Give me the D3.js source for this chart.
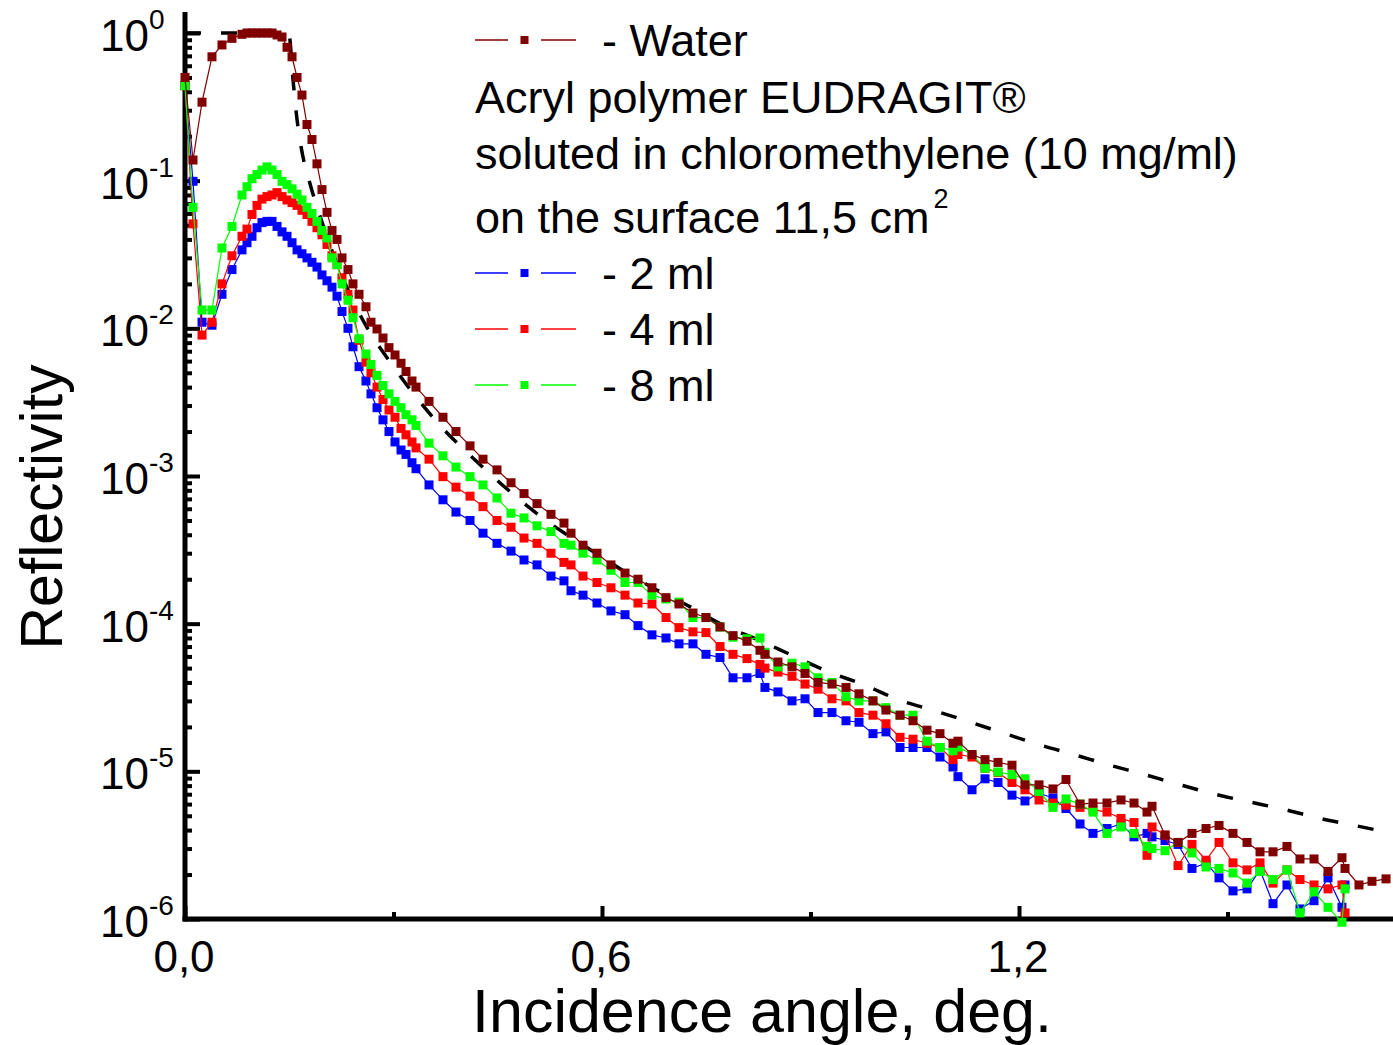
<!DOCTYPE html>
<html>
<head>
<meta charset="utf-8">
<script src="https://cdn.jsdelivr.net/npm/d3@7/dist/d3.min.js"></script>
<style>
body { margin: 0; background: #fff; }
text { font-family: "Liberation Sans", Arial, sans-serif; fill: #000; }
</style>
</head>
<body>
<div class="canvas"></div>
<script>
// incidence angles (deg) shared by all measured curves
const angle = [0.000, 0.0115, 0.0245, 0.0388, 0.0532, 0.0676, 0.0820, 0.0892, 0.0964, 0.1036,
  0.1108, 0.1180, 0.1252, 0.1324, 0.1396, 0.1468, 0.1540, 0.1612, 0.1683, 0.1755,
  0.1827, 0.1899, 0.1971, 0.2043, 0.2115, 0.2187, 0.2259, 0.2345, 0.2417, 0.2504,
  0.2604, 0.2676, 0.2763, 0.2849, 0.2935, 0.3022, 0.3108, 0.3180, 0.3266, 0.3324,
  0.3511, 0.3712, 0.3899, 0.4101, 0.4288, 0.4489, 0.4691, 0.4878, 0.5065, 0.5266,
  0.5453, 0.5554, 0.5727, 0.5928, 0.6129, 0.6331, 0.6518, 0.6719, 0.6921, 0.7108,
  0.7309, 0.7496, 0.7698, 0.7885, 0.8086, 0.8273, 0.8345, 0.8532, 0.8734, 0.8921,
  0.9108, 0.9309, 0.9511, 0.9698, 0.9899, 1.0086, 1.0288, 1.0475, 1.0676, 1.0863,
  1.1050, 1.1122, 1.1324, 1.1511, 1.1698, 1.1899, 1.2086, 1.2288, 1.2489, 1.2676,
  1.2878, 1.3065, 1.3266, 1.3468, 1.3655, 1.3842, 1.3914, 1.4101, 1.4288, 1.4489,
  1.4691, 1.4878, 1.5079, 1.5281, 1.5468, 1.5655, 1.5856, 1.6043, 1.6245, 1.6446,
  1.6647, 1.6691, 1.6892, 1.7079, 1.7281];

// reflectivity of pure water
const water = [0.50, 0.138, 0.34, 0.69, 0.83, 0.92, 0.98, 1.0, 1.0, 1.0,
  1.0, 1.0, 1.0, 0.97, 0.94, 0.80, 0.69, 0.50, 0.38, 0.24,
  0.19, 0.13, 0.087, 0.061, 0.046, 0.040, 0.030, 0.025, 0.020, 0.017,
  0.014, 0.011, 0.0099, 0.0086, 0.0074, 0.0066, 0.0058, 0.0051, 0.0044, 0.0040,
  0.0032, 0.0025, 0.0020, 0.0016, 0.0013, 0.0011, 9.0e-4, 7.6e-4, 6.5e-4, 5.5e-4,
  4.8e-4, 4.1e-4, 3.4e-4, 3.0e-4, 2.5e-4, 2.2e-4, 2.0e-4, 1.75e-4, 1.5e-4, 1.36e-4,
  1.18e-4, 1.1e-4, 9.5e-5, 8.3e-5, 7.6e-5, 6.6e-5, 6.2e-5, 5.5e-5, 5.1e-5, 4.6e-5,
  4.0e-5, 3.9e-5, 3.7e-5, 3.35e-5, 3.0e-5, 2.6e-5, 2.4e-5, 2.2e-5, 1.9e-5, 1.8e-5,
  1.55e-5, 1.6e-5, 1.3e-5, 1.2e-5, 1.15e-5, 1.1e-5, 8.1e-6, 8.1e-6, 7.6e-6, 8.8e-6,
  6.0e-6, 6.1e-6, 6.1e-6, 6.4e-6, 6.1e-6, 5.3e-6, 5.8e-6, 3.7e-6, 3.3e-6, 3.8e-6,
  4.1e-6, 4.3e-6, 3.8e-6, 3.3e-6, 2.85e-6, 2.85e-6, 3.1e-6, 2.55e-6, 2.55e-6, 2.1e-6,
  2.6e-6, 2.2e-6, 1.7e-6, 1.8e-6, 1.87e-6];

// polymer film, 2 ml
const ml2 = [0.44, 0.099, 0.011, 0.0105, 0.017, 0.025, 0.034, 0.038, 0.042, 0.048,
  0.052, 0.053, 0.053, 0.049, 0.045, 0.042, 0.038, 0.034, 0.032, 0.030,
  0.028, 0.026, 0.023, 0.021, 0.019, 0.0165, 0.013, 0.010, 0.0075, 0.0055,
  0.0044, 0.0036, 0.0029, 0.0024, 0.0020, 0.0017, 0.0015, 0.0014, 0.00123, 0.00112,
  8.7e-4, 6.9e-4, 5.7e-4, 5.0e-4, 4.1e-4, 3.5e-4, 3.1e-4, 2.7e-4, 2.5e-4, 2.1e-4,
  1.95e-4, 1.67e-4, 1.56e-4, 1.38e-4, 1.22e-4, 1.15e-4, 9.7e-5, 8.4e-5, 8.0e-5, 7.3e-5,
  7.3e-5, 6.2e-5, 5.9e-5, 4.3e-5, 4.3e-5, 4.6e-5, 3.7e-5, 3.45e-5, 3.0e-5, 3.1e-5,
  2.5e-5, 2.5e-5, 2.2e-5, 2.15e-5, 1.8e-5, 1.85e-5, 1.45e-5, 1.45e-5, 1.45e-5, 1.25e-5,
  1.07e-5, 9.2e-6, 7.5e-6, 8.9e-6, 8.4e-6, 6.9e-6, 6.3e-6, 7.1e-6, 6.6e-6, 5.6e-6,
  4.4e-6, 3.8e-6, 4.1e-6, 4.4e-6, 3.6e-6, 3.8e-6, 3.6e-6, 3.4e-6, 3.2e-6, 2.2e-6,
  2.4e-6, 1.9e-6, 1.55e-6, 1.6e-6, 2.15e-6, 1.27e-6, 1.7e-6, 1.17e-6, 1.33e-6, 1.9e-6,
  1.2e-6, 1.7e-6];

// polymer film, 4 ml
const ml4 = [0.44, 0.051, 0.0090, 0.0110, 0.020, 0.031, 0.042, 0.047, 0.059, 0.068,
  0.075, 0.078, 0.080, 0.083, 0.078, 0.074, 0.071, 0.068, 0.063, 0.059,
  0.053, 0.048, 0.043, 0.037, 0.031, 0.027, 0.022, 0.017, 0.0133, 0.0083,
  0.0059, 0.0050, 0.0040, 0.0033, 0.0028, 0.0025, 0.0021, 0.0019, 0.0017, 0.00155,
  0.0013, 9.9e-4, 8.4e-4, 7.3e-4, 6.2e-4, 5.0e-4, 4.5e-4, 3.8e-4, 3.5e-4, 3.0e-4,
  2.6e-4, 2.5e-4, 2.1e-4, 1.9e-4, 1.75e-4, 1.56e-4, 1.38e-4, 1.36e-4, 1.1e-4, 9.4e-5,
  8.8e-5, 8.7e-5, 7.0e-5, 6.2e-5, 5.8e-5, 5.3e-5, 5.0e-5, 4.7e-5, 4.4e-5, 3.9e-5,
  3.6e-5, 3.1e-5, 3.0e-5, 2.5e-5, 2.4e-5, 2.1e-5, 1.7e-5, 1.65e-5, 1.55e-5, 1.45e-5,
  1.2e-5, 1.3e-5, 1.25e-5, 1.05e-5, 9.8e-6, 8.4e-6, 7.5e-6, 6.4e-6, 6.1e-6, 5.9e-6,
  5.7e-6, 5.5e-6, 5.3e-6, 4.8e-6, 4.5e-6, 2.7e-6, 4.2e-6, 3.7e-6, 2.3e-6, 3.2e-6,
  2.5e-6, 3.3e-6, 2.4e-6, 2.15e-6, 2.4e-6, 1.75e-6, 2.15e-6, 1.85e-6, 1.7e-6, 1.6e-6,
  1.7e-6, 1.1e-6];

// polymer film, 8 ml
const ml8 = [0.44, 0.066, 0.0133, 0.0133, 0.035, 0.049, 0.080, 0.091, 0.103, 0.11,
  0.118, 0.124, 0.118, 0.11, 0.099, 0.094, 0.088, 0.081, 0.074, 0.066,
  0.060, 0.053, 0.046, 0.041, 0.030, 0.027, 0.020, 0.0155, 0.0118, 0.0085,
  0.0067, 0.0057, 0.0048, 0.0041, 0.0036, 0.0032, 0.0029, 0.0026, 0.0024, 0.0022,
  0.00167, 0.00137, 0.00115, 9.9e-4, 8.7e-4, 7.1e-4, 5.6e-4, 5.2e-4, 4.6e-4, 4.2e-4,
  3.5e-4, 3.4e-4, 3.0e-4, 2.7e-4, 2.3e-4, 1.9e-4, 1.9e-4, 1.56e-4, 1.47e-4, 1.4e-4,
  1.1e-4, 1.1e-4, 9.5e-5, 8.1e-5, 7.9e-5, 8.0e-5, 6.4e-5, 5.1e-5, 5.4e-5, 5.1e-5,
  4.3e-5, 4.0e-5, 3.2e-5, 3.0e-5, 3.0e-5, 2.7e-5, 2.4e-5, 2.4e-5, 1.6e-5, 1.45e-5,
  1.38e-5, 1.46e-5, 1.3e-5, 1.05e-5, 9.9e-6, 9.5e-6, 8.9e-6, 7.3e-6, 5.7e-6, 6.5e-6,
  6.0e-6, 5.3e-6, 3.8e-6, 4.2e-6, 3.8e-6, 3.1e-6, 3.0e-6, 2.9e-6, 3.3e-6, 2.8e-6,
  2.25e-6, 2.2e-6, 2.05e-6, 1.75e-6, 2.1e-6, 1.85e-6, 2.15e-6, 1.1e-6, 1.53e-6, 1.2e-6,
  0.95e-6, 1.6e-6];

// calculated curve for water (black dashes)
const theoryAngle = [0, 0.144, 0.150, 0.155, 0.160, 0.167, 0.180, 0.194, 0.212, 0.235,
  0.260, 0.292, 0.329, 0.371, 0.420, 0.471, 0.522, 0.573, 0.673, 0.727,
  0.774, 0.824, 0.875, 0.927, 0.977, 1.027, 1.079, 1.129, 1.180, 1.230,
  1.281, 1.331, 1.381, 1.432, 1.482, 1.532, 1.583, 1.633, 1.683, 1.738];
const theoryValue = [1, 1, 0.955, 0.51, 0.29, 0.17, 0.095, 0.058, 0.033, 0.018,
  0.0105, 0.0062, 0.0036, 0.0021, 0.00125, 7.6e-4, 4.9e-4, 3.4e-4, 1.75e-4, 1.3e-4,
  9.8e-5, 7.8e-5, 6.05e-5, 4.7e-5, 3.85e-5, 3.05e-5, 2.57e-5, 2.16e-5, 1.8e-5, 1.51e-5,
  1.29e-5, 1.1e-5, 9.5e-6, 8.1e-6, 7.0e-6, 6.2e-6, 5.5e-6, 4.8e-6, 4.3e-6, 3.8e-6];

const xMajor = [0, 0.6, 1.2];
const xMajorLabels = ['0,0', '0,6', '1,2'];
const xMinor = [0.3, 0.9, 1.5];
const yExponents = [0, -1, -2, -3, -4, -5, -6];

const seriesNames = ['- 2 ml', '- 4 ml', '- 8 ml', '- Water'];
const seriesColors = ['#0000ff', '#ff0000', '#00ff00', '#800000'];
const seriesValues = [ml2, ml4, ml8, water];
const noteLines = ['Acryl polymer EUDRAGIT\u00ae', 'soluted in chloromethylene (10 mg/ml)', 'on the surface 11,5 cm'];

const W = 1393, H = 1045;
const svg = d3.select('.canvas').append('svg')
    .attr('width', W)
    .attr('height', H);

const x = d3.scaleLinear().domain([0, 1.2]).range([185, 1019]);
const y = d3.scaleLog().domain([1e-6, 1]).range([919, 33]);

// minor ticks on the log axis
const yMinor = [];
yExponents.slice(0, -1).forEach(e => {
    for (let k = 2; k <= 9; k++) yMinor.push(k * Math.pow(10, e - 1));
});

// y axis ticks (inward)
const yMaj = svg.append('g').attr('transform', 'translate(185,0)')
    .call(d3.axisRight(y).tickValues(yExponents.map(e => Math.pow(10, e))).tickSize(15).tickFormat(''));
const yMin = svg.append('g').attr('transform', 'translate(185,0)')
    .call(d3.axisRight(y).tickValues(yMinor).tickSize(7).tickFormat(''));
[yMaj, yMin].forEach(g => {
    g.select('.domain').remove();
    g.selectAll('line').attr('stroke', '#000').attr('stroke-width', 4);
});

// x axis ticks (inward)
const xMaj = svg.append('g').attr('transform', 'translate(0,919)')
    .call(d3.axisTop(x).tickValues(xMajor).tickSize(13).tickFormat(''));
const xMin = svg.append('g').attr('transform', 'translate(0,919)')
    .call(d3.axisTop(x).tickValues(xMinor).tickSize(7).tickFormat(''));
[xMaj, xMin].forEach(g => {
    g.select('.domain').remove();
    g.selectAll('line').attr('stroke', '#000').attr('stroke-width', 4);
});

// axis lines
svg.append('line').attr('x1', 185).attr('x2', 185).attr('y1', y(1.39)).attr('y2', 921.5)
    .attr('stroke', '#000').attr('stroke-width', 5);
svg.append('line').attr('x1', 182.5).attr('x2', W).attr('y1', 919).attr('y2', 919)
    .attr('stroke', '#000').attr('stroke-width', 5);

// tick labels
svg.append('g').selectAll('text')
    .data(xMajor)
    .enter().append('text')
    .attr('x', d => x(d) - 1)
    .attr('y', 972)
    .attr('text-anchor', 'middle')
    .attr('font-size', 44)
    .text((d, i) => xMajorLabels[i]);

const yLab = svg.append('g').selectAll('text')
    .data(yExponents)
    .enter().append('text')
    .attr('x', 100)
    .attr('y', d => y(Math.pow(10, d)) + 18)
    .attr('font-size', 44);
yLab.append('tspan').text('10');
yLab.append('tspan').attr('dy', -22).attr('font-size', 28).text(d => d);

// axis titles
svg.append('text')
    .attr('x', 762).attr('y', 1032)
    .attr('text-anchor', 'middle')
    .attr('font-size', 61)
    .text('Incidence angle, deg.');
svg.append('text')
    .attr('transform', 'translate(62,507) rotate(-90)')
    .attr('text-anchor', 'middle')
    .attr('font-size', 59)
    .text('Reflectivity');

// calculated curve
svg.append('path')
    .datum(theoryAngle.map((a, i) => ({ a: a, v: theoryValue[i] })))
    .attr('d', d3.line().x(d => x(d.a)).y(d => y(d.v)).curve(d3.curveMonotoneX))
    .attr('fill', 'none')
    .attr('stroke', '#000')
    .attr('stroke-width', 3.5)
    .attr('stroke-dasharray', '16,20');

// measured curves
const dataLine = d3.line().x(d => x(d.a)).y(d => y(d.v));
seriesValues.forEach((vals, si) => {
    const pts = angle.map((a, i) => ({ a: a, v: vals[i] })).filter(d => d.v != null);
    const g = svg.append('g');
    g.append('path')
        .datum(pts)
        .attr('d', dataLine)
        .attr('fill', 'none')
        .attr('stroke', seriesColors[si])
        .attr('stroke-width', 1.2);
    g.selectAll('rect')
        .data(pts)
        .enter().append('rect')
        .attr('x', d => x(d.a) - 4.5)
        .attr('y', d => y(d.v) - 4.5)
        .attr('width', 9)
        .attr('height', 9)
        .attr('fill', seriesColors[si]);
});

// legend
const legend = svg.append('g');
const legendRows = [
    { name: seriesNames[3], color: seriesColors[3], y: 40 },
    { name: seriesNames[0], color: seriesColors[0], y: 273 },
    { name: seriesNames[1], color: seriesColors[1], y: 329 },
    { name: seriesNames[2], color: seriesColors[2], y: 385 }
];
legendRows.forEach(r => {
    legend.append('line').attr('x1', 475).attr('x2', 508).attr('y1', r.y).attr('y2', r.y)
        .attr('stroke', r.color).attr('stroke-width', 1.5);
    legend.append('line').attr('x1', 541).attr('x2', 576).attr('y1', r.y).attr('y2', r.y)
        .attr('stroke', r.color).attr('stroke-width', 1.5);
    legend.append('rect').attr('x', 520.5).attr('y', r.y - 4).attr('width', 8).attr('height', 8)
        .attr('fill', r.color);
    legend.append('text').attr('x', 602).attr('y', r.y + 16).attr('font-size', 45).text(r.name);
});
const notes = legend.selectAll('.note')
    .data(noteLines)
    .enter().append('text')
    .attr('class', 'note')
    .attr('x', 475)
    .attr('y', (d, i) => [113, 169, 233][i])
    .attr('font-size', 45)
    .text(d => d);
notes.filter((d, i) => i === 2).append('tspan')
    .attr('dx', 4).attr('dy', -25).attr('font-size', 27).text('2');
</script>
</body>
</html>
